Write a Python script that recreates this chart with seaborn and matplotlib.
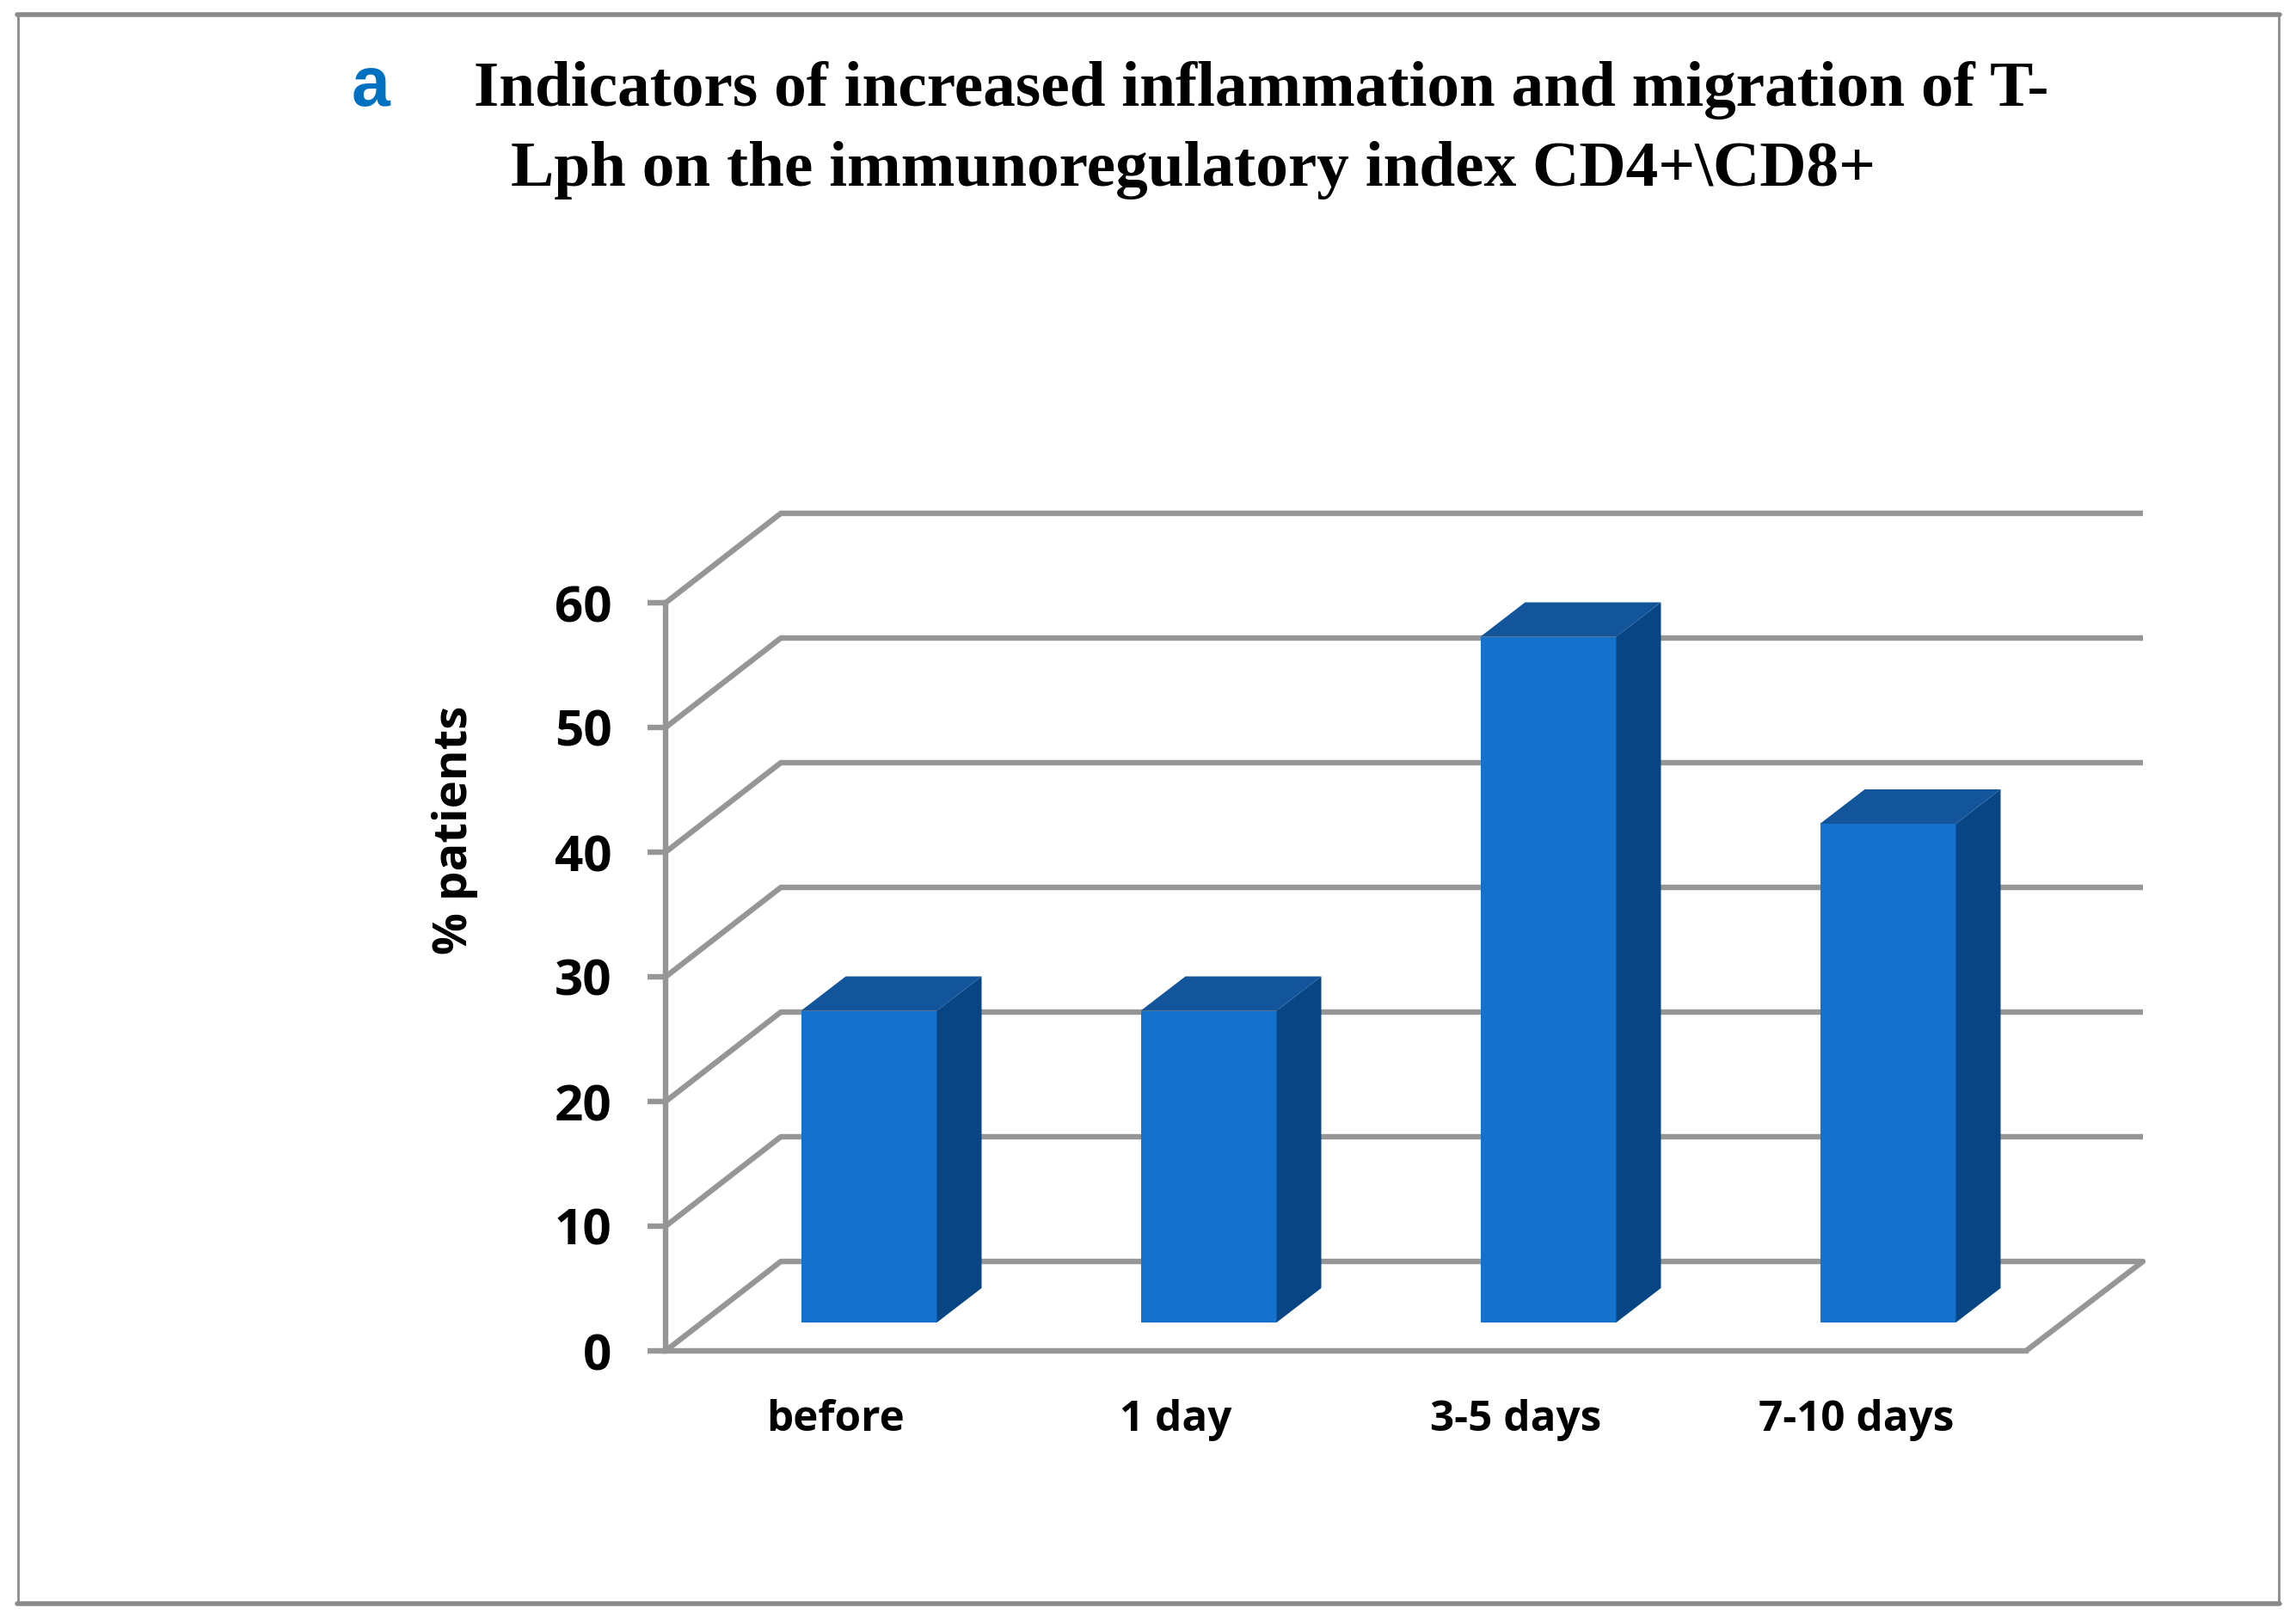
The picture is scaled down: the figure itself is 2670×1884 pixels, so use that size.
import matplotlib
matplotlib.use("Agg")
import matplotlib.pyplot as plt
import seaborn as sns
import pandas as pd
from matplotlib.lines import Line2D
from matplotlib.patches import ConnectionPatch, Polygon, Rectangle

# valores
categorias = ["before", "1 day", "3-5 days", "7-10 days"]
valores = [25, 25, 55, 40]
marcas_y = [0, 10, 20, 30, 40, 50, 60]

W, H = 2670, 1884
sns.set_theme(style="white")
plt.rcParams["font.family"] = ["Open Sans", "DejaVu Sans"]

df = pd.DataFrame({"periodo": categorias, "pacientes": valores})


def caixa(x0, x1, y_topo, y_base):
    return [x0 / W, 1 - y_base / H, (x1 - x0) / W, (y_base - y_topo) / H]


fig = plt.figure(figsize=(W / 200, H / 200), dpi=200)
fig.patch.set_facecolor("white")

# moldura: lados finos, topo e base mais grossos
cor_moldura = "#8a8a8a"
fig.add_artist(Rectangle((21 / W, 1 - 1865 / H), 2629 / W, 1848 / H, transform=fig.transFigure,
                         fill=False, edgecolor=cor_moldura, linewidth=1.0))
for y in (17, 1865):
    fig.add_artist(Line2D([20 / W, 2651 / W], [1 - y / H, 1 - y / H], transform=fig.transFigure,
                          color=cor_moldura, linewidth=2.0))

# tres planos: parede do fundo, barras, frente
ax_fundo = fig.add_axes(caixa(908, 2492, 597, 1467))
ax_barra = fig.add_axes(caixa(813, 2393, 668, 1538))
ax_frente = fig.add_axes(caixa(774, 2356, 701, 1571))
cinza = "#969696"
lw = 2.3

for ax in (ax_fundo, ax_barra, ax_frente):
    ax.set_xlim(-0.5, 3.5)
    ax.set_ylim(0, 60)
    ax.patch.set_alpha(0)

ax_fundo.axis("off")
ax_fundo.hlines(marcas_y, -0.5, 3.5, color=cinza, linewidth=lw, clip_on=False)

# ligacao frente -> fundo
for v in marcas_y:
    ax_frente.add_artist(ConnectionPatch((-0.5, v), (-0.5, v), ax_frente.transData, ax_fundo.transData,
                                         color=cinza, linewidth=lw))
ax_frente.add_artist(ConnectionPatch((3.5, 0), (3.5, 0), ax_frente.transData, ax_fundo.transData,
                                     color=cinza, linewidth=lw))

sns.barplot(data=df, x="periodo", y="pacientes", ax=ax_barra, color="#1471CC", saturation=1,
            width=0.4, zorder=3, linewidth=0, edgecolor="none")
ax_barra.set_xlim(-0.5, 3.5)
ax_barra.set_ylim(0, 60)
ax_barra.axis("off")

# lados e topo das barras
dx, dy = 52 / 395, 40 / 14.5
for barra in list(ax_barra.patches):
    x0, x1 = barra.get_x(), barra.get_x() + barra.get_width()
    h = barra.get_height()
    ax_barra.add_patch(Polygon([(x1, 0), (x1 + dx, dy), (x1 + dx, h + dy), (x1, h)],
                               facecolor="#074584", edgecolor="none", zorder=3, clip_on=False))
    ax_barra.add_patch(Polygon([(x0, h), (x0 + dx, h + dy), (x1 + dx, h + dy), (x1, h)],
                               facecolor="#12559B", edgecolor="none", zorder=3, clip_on=False))

ax_frente.set_xticks(range(4))
ax_frente.set_xticklabels(categorias, fontsize=17.8, fontweight="bold", color="black")
ax_frente.set_yticks(marcas_y)
ax_frente.set_yticklabels(marcas_y, fontsize=21, fontweight="bold", color="black")
ax_frente.tick_params(axis="x", length=0, pad=20)
ax_frente.tick_params(axis="y", left=True, length=7.5, width=lw, color=cinza, pad=15)
sns.despine(ax=ax_frente)
for lado in ("left", "bottom"):
    ax_frente.spines[lado].set_color(cinza)
    ax_frente.spines[lado].set_linewidth(lw)
ax_frente.set_ylabel("% patients", fontsize=19.6, fontweight="bold", color="black")
ax_frente.yaxis.set_label_coords(-0.138, 0.696)

fig.text(431 / W, 1 - 102 / H, "a", fontsize=29, fontweight="bold", color="#0070C0",
         family="Liberation Sans", ha="center", va="center")
fig.text(1467 / W, 1 - 105 / H, "Indicators of increased inflammation and migration of T-", fontsize=27.1,
         fontweight="bold", color="black", family="Liberation Serif", ha="center", va="center")
fig.text(1388 / W, 1 - 198 / H, "Lph on the immunoregulatory index CD4+\\CD8+", fontsize=27.1,
         fontweight="bold", color="black", family="Liberation Serif", ha="center", va="center")

fig.savefig("out.png", dpi=200)
